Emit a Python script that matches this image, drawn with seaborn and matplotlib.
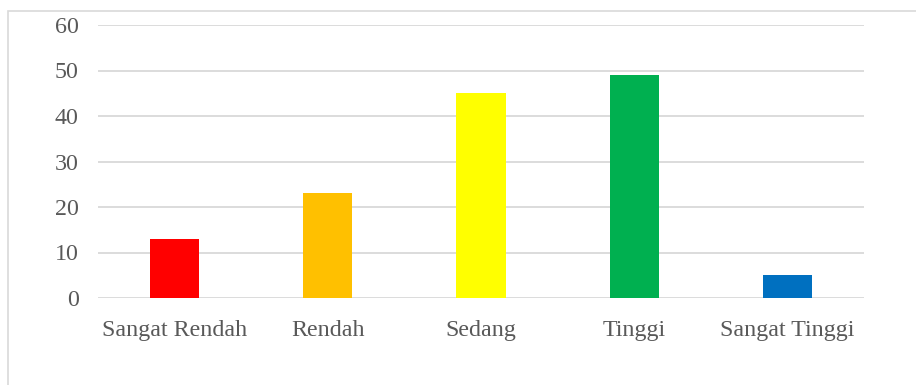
import matplotlib
matplotlib.use("Agg")
import matplotlib.pyplot as plt
import seaborn as sns
import pandas as pd
from matplotlib.patches import Rectangle

categories = ["Sangat Rendah", "Rendah", "Sedang", "Tinggi", "Sangat Tinggi"]
values = [13, 23, 45, 49, 5]
colors = ["#FF0000", "#FFC000", "#FFFF00", "#00B050", "#0070C0"]
yticks = [0, 10, 20, 30, 40, 50, 60]

sns.set_theme(style="white")
plt.rcParams["font.family"] = ["Liberation Serif", "DejaVu Serif"]

W, H = 916, 385
fig = plt.figure(figsize=(W / 100, H / 100), dpi=100)
ax = fig.add_axes([98 / W, (H - 298) / H, (864 - 98) / W, (298 - 25) / H])

df = pd.DataFrame({"cat": categories, "val": values})
sns.barplot(data=df, x="cat", y="val", hue="cat", palette=colors, order=categories,
            hue_order=categories, width=0.32, legend=False, ax=ax, saturation=1,
            linewidth=0)

ax.set_ylim(0, 60)
ax.set_xlim(-0.5, 4.5)
ax.set_yticks(yticks)
ax.set_yticklabels([str(t) for t in yticks])
ax.yaxis.grid(True, color="#d9d9d9", linewidth=1.3)
ax.set_axisbelow(True)
for s in ax.spines.values():
    s.set_visible(False)
ax.set_xlabel("")
ax.set_ylabel("")
ax.tick_params(axis="both", length=0, labelsize=17.3, colors="#595959")
ax.tick_params(axis="y", pad=14)
ax.tick_params(axis="x", pad=16)

fig.patches.append(Rectangle((8 / W, -0.2), 1.2, (H - 11) / H + 0.2, transform=fig.transFigure,
                             fill=False, edgecolor="#d9d9d9", linewidth=1.2))

fig.savefig("out.png", dpi=100)
